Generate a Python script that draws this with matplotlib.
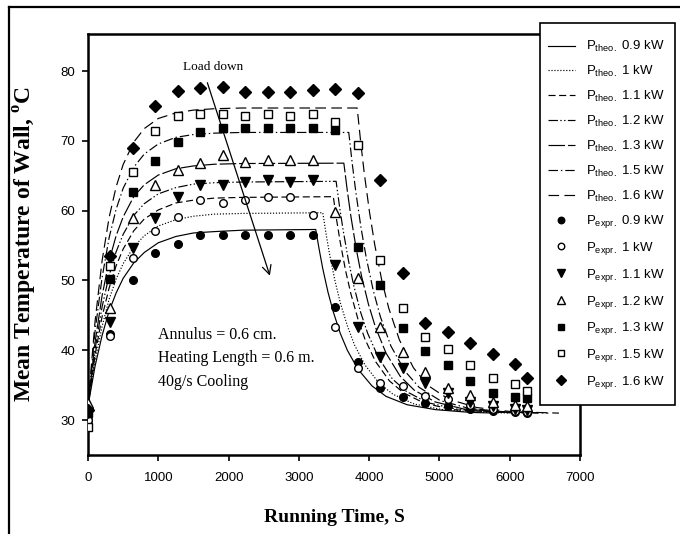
import matplotlib
matplotlib.use("Agg")
import matplotlib.pyplot as plt
from matplotlib.lines import Line2D
from matplotlib.patches import Rectangle

plt.rcParams['mathtext.fontset'] = 'custom'
plt.rcParams['mathtext.rm'] = 'Liberation Serif'
plt.rcParams['mathtext.bf'] = 'Liberation Serif:bold'
plt.rcParams['mathtext.sf'] = 'Liberation Sans'

# ---------------- data ----------------
powers = ['0.9', '1', '1.1', '1.2', '1.3', '1.5', '1.6']

# theoretical curves: rise part (shared times), plateau end, fall part (offsets after plateau end)
rise_t = [0, 100, 200, 300, 400, 500, 650, 800, 1000, 1250, 1500, 1800, 2200]
rise_T = {
    '0.9': [32.0, 37.7, 42.1, 45.6, 48.2, 50.3, 52.5, 54.0, 55.4, 56.3, 56.8, 57.0, 57.2],
    '1':   [32.0, 38.5, 43.4, 47.3, 50.2, 52.4, 54.8, 56.4, 57.8, 58.7, 59.2, 59.5, 59.6],
    '1.1': [32.0, 39.3, 44.8, 48.9, 52.1, 54.5, 57.1, 58.8, 60.1, 61.1, 61.5, 61.8, 61.9],
    '1.2': [32.0, 40.1, 46.2, 50.7, 54.1, 56.6, 59.3, 61.0, 62.4, 63.3, 63.8, 64.0, 64.1],
    '1.3': [32.0, 41.1, 47.8, 52.8, 56.4, 59.1, 62.0, 63.7, 65.1, 66.0, 66.4, 66.65, 66.75],
    '1.5': [32.0, 42.7, 50.4, 56.1, 60.2, 63.2, 66.2, 68.1, 69.55, 70.5, 70.9, 71.1, 71.2],
    '1.6': [32.0, 44.1, 52.8, 59.0, 63.4, 66.6, 69.8, 71.75, 73.2, 74.0, 74.4, 74.6, 74.7],
}
plateau_T = {'0.9': 57.3, '1': 59.7, '1.1': 62.0, '1.2': 64.2, '1.3': 66.8, '1.5': 71.2, '1.6': 74.7}
plateau_end = {'0.9': 3240, '1': 3340, '1.1': 3490, '1.2': 3530, '1.3': 3640, '1.5': 3710, '1.6': 3830}
fall_dt = [50, 100, 175, 250, 350, 450, 600, 800, 1000, 1300, 1700, 2200]
fall_T = {
    '0.9': [54.4, 51.7, 48.3, 45.5, 42.4, 40.0, 37.3, 34.9, 33.4, 32.2, 31.5, 31.1],
    '1':   [56.5, 53.6, 49.9, 46.8, 43.5, 40.8, 37.9, 35.3, 33.7, 32.3, 31.5, 31.15],
    '1.1': [58.5, 55.4, 51.4, 48.1, 44.5, 41.6, 38.4, 35.6, 33.9, 32.4, 31.5, 31.2],
    '1.2': [60.5, 57.2, 52.9, 49.3, 45.4, 42.4, 39.0, 35.9, 34.1, 32.5, 31.6, 31.2],
    '1.3': [62.8, 59.2, 54.6, 50.7, 46.6, 43.3, 39.6, 36.3, 34.3, 32.6, 31.6, 31.2],
    '1.5': [66.7, 62.7, 57.5, 53.2, 48.5, 44.8, 40.6, 37.0, 34.7, 32.8, 31.7, 31.2],
    '1.6': [69.8, 65.4, 59.8, 55.1, 50.0, 46.0, 41.5, 37.5, 35.0, 33.0, 31.8, 31.2],
}
end_t = {'0.9': 5800, '1': 6000, '1.1': 6100, '1.2': 6250, '1.3': 6400, '1.5': 6550, '1.6': 6700}
end_T = 31.0

# experimental points
exp_t = [0, 320, 640, 960, 1280, 1600, 1920, 2240, 2560, 2880, 3200,
         3520, 3840, 4160, 4480, 4800, 5120, 5440, 5760, 6080, 6250]
exp_T = {
    '0.9': [30.0, 42.3, 50.1, 53.9, 55.2, 56.5, 56.5, 56.5, 56.5, 56.5, 56.5,
            46.2, 38.3, 34.6, 33.3, 32.5, 32.0, 31.6, 31.3, 31.1, 31.0],
    '1':   [30.0, 42.0, 53.2, 57.1, 59.1, 61.5, 61.1, 61.5, 62.0, 62.0, 59.4,
            43.3, 37.4, 35.3, 34.9, 33.5, 33.0, 32.2, 31.6, 31.3, 31.2],
    '1.1': [31.0, 44.0, 54.6, 58.9, 62.0, 63.7, 63.7, 64.1, 64.4, 64.1, 64.4,
            52.2, 43.3, 39.0, 37.4, 35.3, 33.9, 32.6, 32.0, 31.6, 31.4],
    '1.2': [32.4, 46.0, 58.9, 63.7, 65.8, 66.8, 68.0, 66.9, 67.2, 67.2, 67.2,
            59.8, 50.3, 43.3, 39.7, 36.9, 34.6, 33.6, 32.6, 32.2, 32.0],
    '1.3': [31.0, 50.2, 62.7, 67.1, 69.8, 71.3, 71.8, 71.8, 71.8, 71.8, 71.8,
            71.5, 54.8, 49.3, 43.2, 39.9, 37.9, 35.6, 33.9, 33.3, 33.1],
    '1.5': [29.0, 52.1, 65.5, 71.4, 73.6, 73.8, 73.8, 73.6, 73.8, 73.6, 73.8,
            72.7, 69.4, 52.9, 46.0, 41.9, 40.2, 37.9, 36.0, 35.2, 34.2],
    '1.6': [31.5, 53.5, 69.0, 75.0, 77.1, 77.5, 77.7, 77.0, 77.0, 77.0, 77.3,
            77.4, 76.8, 64.4, 51.0, 43.9, 42.6, 41.0, 39.5, 38.0, 36.0],
}

x_ticks = [0, 1000, 2000, 3000, 4000, 5000, 6000, 7000]
y_ticks = [30, 40, 50, 60, 70, 80]

# ---------------- styles ----------------
line_styles = {
    '0.9': '-',
    '1': (0, (1, 1.5)),
    '1.1': (0, (6, 3)),
    '1.2': (0, (8, 2, 1.2, 2, 1.2, 2)),
    '1.3': (0, (14, 2.5)),
    '1.5': (0, (8, 2.5, 1.2, 2.5)),
    '1.6': (0, (9, 4.5)),
}
marker_styles = {
    '0.9': dict(marker='o', ms=5.5, mfc='black'),
    '1': dict(marker='o', ms=5.5, mfc='white'),
    '1.1': dict(marker='v', ms=6.5, mfc='black'),
    '1.2': dict(marker='^', ms=6.5, mfc='white'),
    '1.3': dict(marker='s', ms=5.5, mfc='black'),
    '1.5': dict(marker='s', ms=5.5, mfc='white'),
    '1.6': dict(marker='D', ms=6, mfc='black'),
}

W, H = 680, 534
fig = plt.figure(figsize=(6.8, 5.34), dpi=100)
fig.patch.set_facecolor('white')
ax = fig.add_axes([88 / W, 1 - 455 / H, 492 / W, 421 / H])

handles = []
labels = []
for p in powers:
    tt = list(rise_t) + [plateau_end[p]] + [plateau_end[p] + d for d in fall_dt] + [end_t[p]]
    TT = list(rise_T[p]) + [plateau_T[p]] + list(fall_T[p]) + [end_T]
    h, = ax.plot(tt, TT, color='black', lw=0.85, linestyle=line_styles[p], zorder=2)
    handles.append(h)
    labels.append(r'P$_{\mathsf{theo.}}$ ' + p + ' kW')
for p in powers:
    h, = ax.plot(exp_t, exp_T[p], linestyle='none', color='black', mec='black',
                 mew=1.0, zorder=3, **marker_styles[p])
    handles.append(h)
    labels.append(r'P$_{\mathsf{expr.}}$ ' + p + ' kW')

ax.set_xlim(0, 7000)
ax.set_ylim(25, 85.3)
ax.set_xticks(x_ticks)
ax.set_yticks(y_ticks)
for s in ax.spines.values():
    s.set_linewidth(1.8)
ax.tick_params(direction='out', length=4, width=1.2, labelsize=9.5,
               labelfontfamily='Liberation Sans')
ax.tick_params(axis='x', pad=8.5)
ax.tick_params(axis='y', pad=5)

ax.set_ylabel(r'Mean Temperature of Wall, $^{\mathbf{o}}$C', fontfamily='Liberation Serif',
              fontweight='bold', fontsize=17)
ax.yaxis.set_label_coords(-0.100, 0.5)
ax.set_xlabel('Running Time, S', fontfamily='Liberation Serif', fontweight='bold', fontsize=14)
ax.xaxis.set_label_coords(0.5, -0.128)

ax.text(990, 43.4, 'Annulus = 0.6 cm.\nHeating Length = 0.6 m.\n40g/s Cooling',
        fontfamily='Liberation Serif', fontsize=11.5, va='top', ha='left', linespacing=1.65)
ax.text(1357, 80.6, 'Load down', fontfamily='Liberation Serif', fontsize=9.5,
        va='center', ha='left')
ax.annotate('', xy=(2600, 50.3), xytext=(1686, 78.7),
            arrowprops=dict(arrowstyle='->', lw=0.9, color='black', mutation_scale=16))

# legend frame drawn separately
fig.add_artist(Rectangle((540 / W, 1 - 405 / H), 135 / W, 382 / H, transform=fig.transFigure,
                         facecolor='white', edgecolor='black', lw=1.2, zorder=4))
leg = fig.legend(handles, labels, loc='upper left', bbox_to_anchor=(539 / W, 1 - 30 / H),
                 bbox_transform=fig.transFigure, prop={'family': 'Liberation Sans', 'size': 9.5},
                 frameon=False, labelspacing=0.74, handlelength=2.0, handletextpad=0.9,
                 borderpad=0.7, borderaxespad=0, markerscale=0.85)
leg.set_zorder(5)

# outer frame
fig.add_artist(Line2D([9 / W, 9 / W], [0, 1 - 7 / H], transform=fig.transFigure,
                      color='black', lw=1.6))
fig.add_artist(Line2D([9 / W, 1], [1 - 7 / H, 1 - 7 / H], transform=fig.transFigure,
                      color='black', lw=1.6))

fig.savefig('out.png', dpi=100, facecolor='white')
